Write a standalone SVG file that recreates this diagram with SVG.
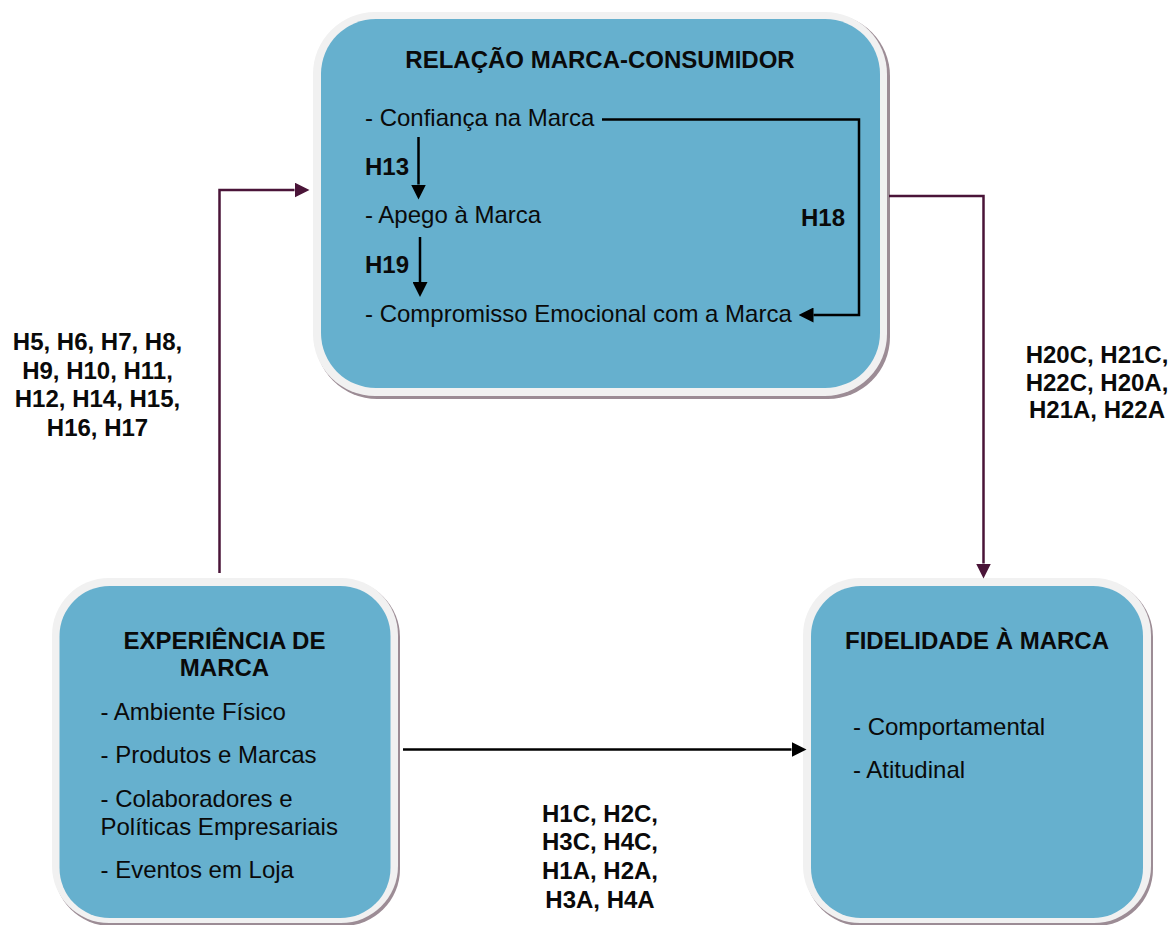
<svg xmlns="http://www.w3.org/2000/svg" width="1168" height="925" viewBox="0 0 1168 925">
<defs>
<style>
.shadow{fill:#9c8c95}
.rim{fill:#f1f1f1}
.fill{fill:#66b0ce}
text{font-family:"Liberation Sans",Arial,sans-serif;font-size:24px;fill:#0a0a0a}
.b{font-weight:bold}
.c{text-anchor:middle}
.ln{fill:none;stroke:#000;stroke-width:2.5}
.mr{fill:none;stroke:#4a1438;stroke-width:2.5}
</style>
<marker id="ab" viewBox="0 0 15 15" refX="0" refY="7.5" markerWidth="15" markerHeight="15" markerUnits="userSpaceOnUse" orient="auto"><path d="M0,0 L15,7.5 L0,15 z" fill="#000"/></marker>
<marker id="am" viewBox="0 0 15 15" refX="0" refY="7.5" markerWidth="15" markerHeight="15" markerUnits="userSpaceOnUse" orient="auto"><path d="M0,0 L15,7.5 L0,15 z" fill="#4a1438"/></marker>
</defs>
<rect width="1168" height="925" fill="#fff"/>
<g id="relacao">
<rect class="shadow" x="315" y="14" width="575" height="385" rx="62"/>
<rect class="rim" x="313" y="12" width="574" height="384" rx="62"/>
<rect class="fill" x="321" y="19" width="559" height="369" rx="55"/>
<text class="b c" x="600" y="68">RELAÇÃO MARCA-CONSUMIDOR</text>
<text x="365" y="126">- Confiança na Marca</text>
<text class="b" x="365" y="175">H13</text>
<text x="365" y="223">- Apego à Marca</text>
<text class="b" x="365" y="273">H19</text>
<text x="365" y="322">- Compromisso Emocional com a Marca</text>
<text class="b" x="801" y="226">H18</text>
</g>
<g id="experiencia">
<rect class="shadow" x="54" y="580" width="346" height="346" rx="57"/>
<rect class="rim" x="52" y="578" width="346" height="345" rx="57"/>
<rect class="fill" x="59.5" y="586" width="331" height="332" rx="50"/>
<text class="b c" x="224.5" y="649">EXPERIÊNCIA DE</text>
<text class="b c" x="224.5" y="676">MARCA</text>
<text x="100.5" y="720">- Ambiente Físico</text>
<text x="100.5" y="763">- Produtos e Marcas</text>
<text x="100.5" y="807">- Colaboradores e</text>
<text x="100.5" y="835">Políticas Empresariais</text>
<text x="100.5" y="878">- Eventos em Loja</text>
</g>
<g id="fidelidade">
<rect class="shadow" x="805" y="580" width="348" height="346" rx="57"/>
<rect class="rim" x="803" y="578" width="348" height="345" rx="57"/>
<rect class="fill" x="811" y="586" width="332" height="332" rx="50"/>
<text class="b c" x="977" y="649">FIDELIDADE À MARCA</text>
<text x="853" y="735">- Comportamental</text>
<text x="853" y="778">- Atitudinal</text>
</g>
<g id="connectors">
<path class="mr" d="M219.5,573 V190 H294.5" marker-end="url(#am)"/>
<path class="mr" d="M889,196 H983.5 V563.5" marker-end="url(#am)"/>
<path class="ln" d="M403,749.5 H791.5" marker-end="url(#ab)"/>
<path class="ln" d="M418.5,137 V184.5" marker-end="url(#ab)"/>
<path class="ln" d="M420,237 V282" marker-end="url(#ab)"/>
<path class="ln" d="M602,119.5 H859 V315 H813.5" marker-end="url(#ab)"/>
</g>
<g id="labels">
<text class="b c" x="97.5" y="350">H5, H6, H7, H8,</text>
<text class="b c" x="97.5" y="378.5">H9, H10, H11,</text>
<text class="b c" x="97.5" y="407">H12, H14, H15,</text>
<text class="b c" x="97.5" y="435.5">H16, H17</text>
<text class="b c" x="1097" y="363">H20C, H21C,</text>
<text class="b c" x="1097" y="390.5">H22C, H20A,</text>
<text class="b c" x="1097" y="418">H21A, H22A</text>
<text class="b c" x="600" y="821.5">H1C, H2C,</text>
<text class="b c" x="600" y="850">H3C, H4C,</text>
<text class="b c" x="600" y="879">H1A, H2A,</text>
<text class="b c" x="600" y="908">H3A, H4A</text>
</g>
</svg>
